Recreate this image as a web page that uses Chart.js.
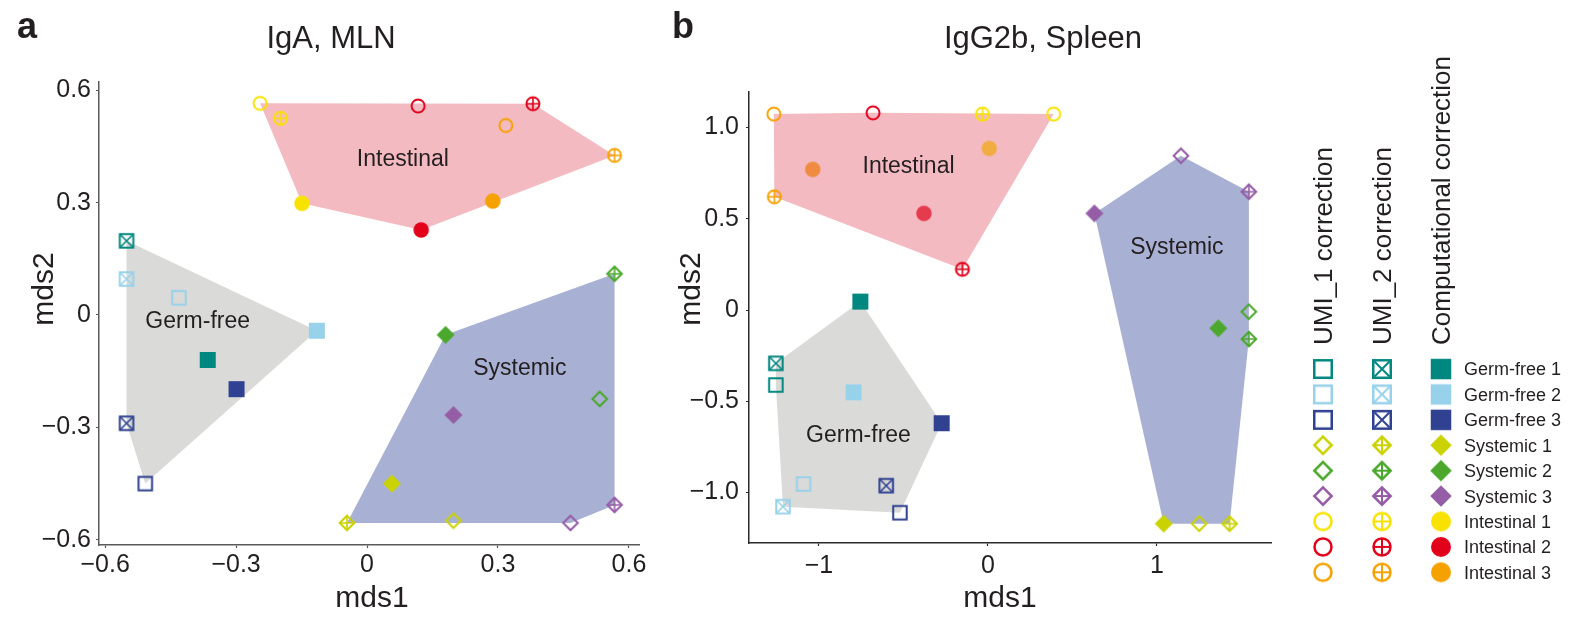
<!DOCTYPE html>
<html>
<head>
<meta charset="utf-8">
<title>MDS of repertoire overlap</title>
<script src="https://cdn.jsdelivr.net/npm/chart.js@4.4.1/dist/chart.umd.min.js"></script>
<style>
  html, body { margin: 0; padding: 0; background: #ffffff; width: 1573px; height: 618px; overflow: hidden; }
  canvas { position: absolute; top: 0; }
  #mln { left: 0; }
  #spleen { left: 660px; }
  #key { left: 1280px; }
</style>
</head>
<body>
<canvas id="mln" width="660" height="618"></canvas>
<canvas id="spleen" width="620" height="618"></canvas>
<canvas id="key" width="293" height="618"></canvas>
<script>
// ---- samples and correction methods ----
const sampleNames = ['Germ-free 1', 'Germ-free 2', 'Germ-free 3',
                     'Systemic 1', 'Systemic 2', 'Systemic 3',
                     'Intestinal 1', 'Intestinal 2', 'Intestinal 3'];
const sampleGroups = ['Germ-free', 'Germ-free', 'Germ-free',
                      'Systemic', 'Systemic', 'Systemic',
                      'Intestinal', 'Intestinal', 'Intestinal'];
const groupNames = ['Germ-free', 'Systemic', 'Intestinal'];
const methodNames = ['UMI_1 correction', 'UMI_2 correction', 'Computational correction'];

// ---- IgA, MLN (mds1 / mds2 per sample) ----
const mlnUmi1X = [null, -0.431, -0.508, 0.198, 0.533, 0.466, -0.245, 0.117, 0.318];
const mlnUmi1Y = [null, 0.046, -0.450, -0.549, -0.224, -0.555, 0.565, 0.558, 0.506];
const mlnUmi2X = [-0.551, -0.551, -0.551, -0.046, 0.567, 0.567, -0.198, 0.380, 0.567];
const mlnUmi2Y = [0.198, 0.096, -0.289, -0.555, 0.110, -0.507, 0.525, 0.564, 0.426];
const mlnCompX = [-0.365, -0.115, -0.299, 0.057, 0.180, 0.198, -0.149, 0.124, 0.288];
const mlnCompY = [-0.120, -0.042, -0.198, -0.450, -0.053, -0.267, 0.298, 0.227, 0.304];

// ---- IgG2b, Spleen (mds1 / mds2 per sample) ----
const spleenUmi1X = [-1.255, -1.091, -0.521, 1.250, 1.544, 1.142, 0.389, -0.680, -1.267];
const spleenUmi1Y = [-0.411, -0.953, -1.110, -1.170, -0.009, 0.845, 1.073, 1.080, 1.073];
const spleenUmi2X = [-1.255, -1.213, -0.602, 1.430, 1.544, 1.544, -0.032, -0.151, -1.264];
const spleenUmi2Y = [-0.292, -1.077, -0.962, -1.170, -0.159, 0.648, 1.073, 0.223, 0.620];
const spleenCompX = [-0.755, -0.795, -0.274, 1.040, 1.363, 0.630, 0.008, -0.379, -1.037];
const spleenCompY = [0.046, -0.451, -0.620, -1.170, -0.100, 0.529, 0.885, 0.529, 0.770];

// ---- ticks ----
const mlnTicks = [-0.6, -0.3, 0, 0.3, 0.6];
const mlnTickLabels = ['\u22120.6', '\u22120.3', '0', '0.3', '0.6'];
const spleenXTicks = [-1, 0, 1];
const spleenXTickLabels = ['\u22121', '0', '1'];
const spleenYTicks = [-1, -0.5, 0, 0.5, 1];
const spleenYTickLabels = ['\u22121.0', '\u22120.5', '0', '0.5', '1.0'];

// ---- group label anchors (data units) ----
const mlnGroupLabelX = [-0.388, 0.350, 0.082];
const mlnGroupLabelY = [-0.019, -0.142, 0.414];
const spleenGroupLabelX = [-0.766, 1.118, -0.470];
const spleenGroupLabelY = [-0.690, 0.340, 0.783];

// ---- styling ----
const FONT = '"Liberation Sans", Arial, Helvetica, sans-serif';
const INK = '#231f20';
const sampleColors = ['#00877f', '#98d2ea', '#2f4190',
                      '#cad300', '#4ba82c', '#955da6',
                      '#f8e300', '#e2001a', '#f5a200'];
// translucent hull fills (half-opacity, so they look pastel over white)
const groupFills = ['rgba(181,181,179,0.5)', 'rgba(81,99,167,0.5)', 'rgba(233,117,131,0.5)'];
const groupShapes = { 'Germ-free': 'square', 'Systemic': 'diamond', 'Intestinal': 'circle' };
const methodKinds = ['open', 'crossed', 'filled'];
const plotMarker = { square: 15.5, diamond: 17.5, circle: 15, lw: 2 };
const keyMarker = { square: 20, diamond: 21, circle: 19.5, lw: 2.5 };

Chart.defaults.font.family = FONT;
Chart.defaults.color = INK;

// ---- marker sprites used as Chart.js point styles ----
const spriteCache = {};
function markerFor(shape, kind, color, spec) {
  const key = [shape, kind, color, spec.square].join('|');
  if (spriteCache[key]) return spriteCache[key];
  const size = spec[shape] + (kind === 'filled' ? 0.5 : 0);
  const lw = spec.lw;
  const h = size / 2;
  const dim = 2 * Math.ceil(h + lw) + 2;
  const c = document.createElement('canvas');
  c.width = dim; c.height = dim;
  const g = c.getContext('2d');
  const m = dim / 2;
  g.strokeStyle = color; g.fillStyle = color;
  g.lineWidth = lw; g.lineJoin = 'miter';
  let inner;
  g.beginPath();
  if (shape === 'square') {
    if (kind === 'filled') g.rect(m - h, m - h, size, size);
    else g.rect(m - h + lw / 2, m - h + lw / 2, size - lw, size - lw);
    inner = h - lw;
  } else if (shape === 'diamond') {
    const r = kind === 'filled' ? h : h - lw * 0.71;
    g.moveTo(m, m - r); g.lineTo(m + r, m); g.lineTo(m, m + r); g.lineTo(m - r, m); g.closePath();
    inner = r;
  } else {
    const r = kind === 'filled' ? h : h - lw / 2;
    g.arc(m, m, r, 0, 2 * Math.PI);
    inner = r;
  }
  if (kind === 'filled') g.fill(); else g.stroke();
  if (kind === 'crossed') {
    g.beginPath();
    g.lineWidth = lw * 0.8;
    if (shape === 'square') {
      g.moveTo(m - inner, m - inner); g.lineTo(m + inner, m + inner);
      g.moveTo(m + inner, m - inner); g.lineTo(m - inner, m + inner);
    } else {
      g.moveTo(m - inner, m); g.lineTo(m + inner, m);
      g.moveTo(m, m - inner); g.lineTo(m, m + inner);
    }
    g.stroke();
  }
  spriteCache[key] = c;
  return c;
}

// ---- convex hull (monotone chain) ----
function convexHull(pts) {
  const p = pts.slice().sort((a, b) => a.x - b.x || a.y - b.y);
  const cross = (o, a, b) => (a.x - o.x) * (b.y - o.y) - (a.y - o.y) * (b.x - o.x);
  const lower = [], upper = [];
  for (const q of p) {
    while (lower.length >= 2 && cross(lower[lower.length - 2], lower[lower.length - 1], q) <= 0) lower.pop();
    lower.push(q);
  }
  for (let i = p.length - 1; i >= 0; i--) {
    const q = p[i];
    while (upper.length >= 2 && cross(upper[upper.length - 2], upper[upper.length - 1], q) <= 0) upper.pop();
    upper.push(q);
  }
  const hull = lower.slice(0, -1).concat(upper.slice(0, -1));
  hull.push(hull[0]);
  return hull;
}

// ---- datasets for one panel: markers per group/method plus the group hull ----
function panelDatasets(cols, underHull) {
  const datasets = [];
  groupNames.forEach((grp, gi) => {
    const members = [];
    sampleGroups.forEach((g, i) => { if (g === grp) members.push(i); });
    const cloud = [];
    methodKinds.forEach((kind, mi) => {
      const xs = cols[mi][0], ys = cols[mi][1];
      const data = [], styles = [];
      members.forEach(i => {
        if (xs[i] === null) return;
        data.push({ x: xs[i], y: ys[i] });
        styles.push(markerFor(groupShapes[grp], kind, sampleColors[i], plotMarker));
        cloud.push({ x: xs[i], y: ys[i] });
      });
      const beneath = (underHull[grp] || []).includes(mi);
      datasets.push({
        label: grp + ' \u2013 ' + methodNames[mi],
        data, pointStyle: styles, pointRadius: 8, pointHoverRadius: 8,
        showLine: false, clip: false, order: beneath ? 2 : 0
      });
    });
    datasets.push({
      label: grp,
      data: convexHull(cloud),
      showLine: true, fill: 'shape',
      backgroundColor: groupFills[gi],
      borderColor: 'rgba(0,0,0,0)', borderWidth: 0,
      pointRadius: 0, pointHoverRadius: 0, order: 1
    });
  });
  return datasets;
}

function linearAxis(cfg) {
  return {
    type: 'linear', position: cfg.position, min: cfg.min, max: cfg.max,
    afterBuildTicks: s => { s.ticks = cfg.ticks.map(v => ({ value: v })); },
    afterFit: s => {
      if (cfg.position === 'bottom') s.height = cfg.size; else s.width = cfg.size;
      s.paddingLeft = 0; s.paddingRight = 0; s.paddingTop = 0; s.paddingBottom = 0;
    },
    ticks: {
      autoSkip: false, maxRotation: 0, minRotation: 0, padding: cfg.pad, color: INK,
      font: { family: FONT, size: 25 },
      callback: (v, i) => cfg.labels[i]
    },
    grid: { display: true, drawOnChartArea: false, drawTicks: true, tickLength: 3, tickWidth: 1.2, color: cfg.color },
    border: { display: true, color: cfg.color, width: 1.5 }
  };
}

// ---- titles, axis titles and group names ----
const panelText = {
  id: 'panelText',
  afterDraw(chart, args, o) {
    const { ctx, chartArea, scales } = chart;
    ctx.save();
    ctx.fillStyle = INK;
    ctx.textBaseline = 'alphabetic';
    ctx.font = `bold 36px ${FONT}`;
    ctx.textAlign = 'left';
    ctx.fillText(o.letter, o.letterX, 38);
    ctx.font = `31px ${FONT}`;
    ctx.textAlign = 'center';
    ctx.fillText(o.title, o.titleX, 48);
    ctx.font = `30px ${FONT}`;
    ctx.fillText('mds1', o.xTitleX, 607);
    ctx.save();
    ctx.translate(o.yTitleX, 289);
    ctx.rotate(-Math.PI / 2);
    ctx.fillText('mds2', 0, 0);
    ctx.restore();
    ctx.font = `23px ${FONT}`;
    ctx.textBaseline = 'middle';
    groupNames.forEach((g, i) => {
      ctx.fillText(g, scales.x.getPixelForValue(o.labelX[i]), scales.y.getPixelForValue(o.labelY[i]));
    });
    ctx.restore();
  }
};

function makePanel(id, cfg) {
  return new Chart(document.getElementById(id), {
    type: 'scatter',
    data: { datasets: panelDatasets(cfg.cols, cfg.underHull) },
    options: {
      responsive: false, animation: false, events: [], devicePixelRatio: 1,
      layout: { padding: cfg.padding },
      plugins: { legend: { display: false }, tooltip: { enabled: false }, panelText: cfg.text },
      scales: { x: linearAxis(cfg.x), y: linearAxis(cfg.y) }
    },
    plugins: [panelText]
  });
}

makePanel('mln', {
  cols: [[mlnUmi1X, mlnUmi1Y], [mlnUmi2X, mlnUmi2Y], [mlnCompX, mlnCompY]],
  underHull: {},
  padding: { left: 0, right: 21, top: 82, bottom: 0 },
  x: { position: 'bottom', min: -0.614, max: 0.623, ticks: mlnTicks, labels: mlnTickLabels, size: 73, pad: 2, color: '#5a5a5a' },
  y: { position: 'left', min: -0.614, max: 0.622, ticks: mlnTicks, labels: mlnTickLabels, size: 99, pad: 5, color: '#5a5a5a' },
  text: { letter: 'a', letterX: 17, title: 'IgA, MLN', titleX: 331, xTitleX: 372, yTitleX: 53,
          labelX: mlnGroupLabelX, labelY: mlnGroupLabelY }
});

makePanel('spleen', {
  cols: [[spleenUmi1X, spleenUmi1Y], [spleenUmi2X, spleenUmi2Y], [spleenCompX, spleenCompY]],
  // computed-correction circles sit beneath the translucent intestinal hull
  underHull: { 'Intestinal': [2] },
  padding: { left: 0, right: 9, top: 92, bottom: 0 },
  x: { position: 'bottom', min: -1.414, max: 1.675, ticks: spleenXTicks, labels: spleenXTickLabels, size: 75, pad: 5, color: '#2a2a2a' },
  y: { position: 'left', min: -1.276, max: 1.194, ticks: spleenYTicks, labels: spleenYTickLabels, size: 89, pad: 7, color: '#2a2a2a' },
  text: { letter: 'b', letterX: 12, title: 'IgG2b, Spleen', titleX: 383, xTitleX: 340, yTitleX: 40,
          labelX: spleenGroupLabelX, labelY: spleenGroupLabelY }
});

// ---- key: one column per correction method, one row per sample ----
const keyText = {
  id: 'keyText',
  afterDraw(chart) {
    const { ctx, scales: { x, y } } = chart;
    ctx.save();
    ctx.fillStyle = INK;
    ctx.textBaseline = 'alphabetic';
    ctx.textAlign = 'left';
    ctx.font = `26px ${FONT}`;
    methodNames.forEach((name, mi) => {
      ctx.save();
      ctx.translate(x.getPixelForValue(mi) + 26 * 0.36, y.getPixelForValue(0) - 24);
      ctx.rotate(-Math.PI / 2);
      ctx.fillText(name, 0, 0);
      ctx.restore();
    });
    ctx.font = `18px ${FONT}`;
    sampleNames.forEach((name, i) => {
      ctx.fillText(name, x.getPixelForValue(2) + 23, y.getPixelForValue(i) + 18 * 0.36);
    });
    ctx.restore();
  }
};

new Chart(document.getElementById('key'), {
  type: 'scatter',
  data: {
    datasets: methodKinds.map((kind, mi) => ({
      label: methodNames[mi],
      data: sampleNames.map((_, i) => ({ x: mi, y: i })),
      pointStyle: sampleNames.map((_, i) => markerFor(groupShapes[sampleGroups[i]], kind, sampleColors[i], keyMarker)),
      pointRadius: 10, pointHoverRadius: 10, clip: false
    }))
  },
  options: {
    responsive: false, animation: false, events: [], devicePixelRatio: 1,
    layout: { padding: { left: 13.5, right: 102.5, top: 356.3, bottom: 33 } },
    plugins: { legend: { display: false }, tooltip: { enabled: false } },
    scales: {
      x: { type: 'linear', display: false, min: -0.5, max: 2.5 },
      y: { type: 'linear', display: false, min: -0.5, max: 8.5, reverse: true }
    }
  },
  plugins: [keyText]
});
</script>
</body>
</html>
